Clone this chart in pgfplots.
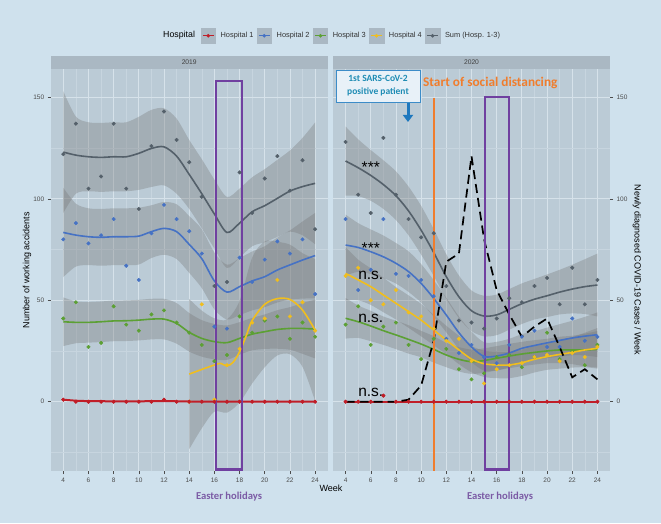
\documentclass[border=0pt]{standalone}
\usepackage{pgfplots}
\pgfplotsset{compat=1.18}
\usepackage{pgfplotstable}
\usepgfplotslibrary{fillbetween}
\usetikzlibrary{arrows.meta}
\usepackage{fontspec}
\setmainfont{Liberation Sans}
\newfontfamily\calib{Carlito}

\definecolor{bgcol}{RGB}{207,225,237}
\definecolor{panelcol}{RGB}{187,203,214}
\definecolor{stripcol}{RGB}{170,184,195}
\definecolor{gridmaj}{RGB}{214,226,234}
\definecolor{gridmin}{RGB}{199,213,223}
\definecolor{hred}{RGB}{192,30,40}
\definecolor{hblue}{RGB}{70,114,196}
\definecolor{hgreen}{RGB}{92,160,52}
\definecolor{hyellow}{RGB}{240,190,30}
\definecolor{hgray}{RGB}{84,96,106}
\definecolor{easter}{RGB}{112,64,160}
\definecolor{eastertext}{RGB}{123,91,165}
\definecolor{socorange}{RGB}{240,125,45}
\definecolor{boxblue}{RGB}{60,140,200}
\definecolor{boxfill}{RGB}{232,241,248}
\definecolor{boxtext}{RGB}{30,140,180}
\definecolor{arrowblue}{RGB}{30,120,190}
\definecolor{tickgray}{RGB}{77,77,77}

% ---------- 2019 data ----------
\pgfplotstableread{
w r b g s
4 1 80 41 122
5 0 88 49 137
6 0 78 27 105
7 0 82 29 111
8 0 90 47 137
9 0 67 38 105
10 0 60 35 95
11 0 83 43 126
12 1 97 45 143
13 0 90 39 129
14 0 84 34 118
15 0 73 28 101
16 0 37 20 57
17 0 36 23 59
18 0 71 42 113
19 0 59 34 93
20 0 70 40 110
21 0 79 42 121
22 0 73 31 104
23 0 80 39 119
24 0 53 32 85
}\ptsA
\pgfplotstableread{
w y
14 0
15 48
16 1
17 18
18 26
19 39
20 41
21 60
22 42
23 49
24 35
}\ptsAy
\pgfplotstableread{
w f
4 1.0
5 0.5
6 0.3
8 0.2
10 0.2
12 0.3
14 0.1
16 0.0
18 0.0
20 0.0
22 0.0
24 0.0
}\redA
\pgfplotstableread{
w f lo hi
4 123 93 153
5 121.5 102.5 140.5
6 120.7 103.7 137.7
7 120.4 103.4 137.4
8 120.7 103.7 137.7
9 120.7 103.7 137.7
10 122.4 104.4 140.4
11 124.8 105.8 143.8
12 125.6 106.6 144.6
13 121 102.5 139.5
14 112 95 129
15 102.5 85.5 119.5
16 92.5 75.5 109.5
17 83.4 65.9 100.9
18 88 71 105
19 93.6 76.6 110.6
20 96.6 78.6 114.6
21 100.2 81.2 119.2
22 103.8 83.8 123.8
23 106 82 130
24 107.6 77.6 137.6
}\sumA
\pgfplotstableread{
w f lo hi
4 83.4 61.4 105.4
5 82.1 66.6 97.6
6 81.3 67.3 95.3
7 81.0 67 95
8 81.3 67.3 95.3
9 81.3 67.3 95.3
10 81.6 67.6 95.6
11 83.8 70.8 96.8
12 85.4 72.4 98.4
13 83.8 70.3 97.3
14 77.5 63.5 91.5
15 70.5 56 85
16 59.5 45.5 73.5
17 54 40.5 67.5
18 56.7 42.7 70.7
19 59.5 45 74
20 61.6 46.6 76.6
21 64.9 48.9 80.9
22 67.4 50.4 84.4
23 69.8 50.8 88.8
24 72 51 93
}\blueA
\pgfplotstableread{
w f lo hi
4 39.4 27.4 51.4
5 39.1 28.8 49.4
6 39.1 29.1 49.1
7 39.4 29.4 49.4
8 39.8 29.8 49.8
9 39.9 29.9 49.9
10 40.2 30.2 50.2
11 40.7 30.7 50.7
12 40.7 30.7 50.7
13 38.6 28.6 48.6
14 34.2 24.7 43.7
15 31.2 22.2 40.2
16 29.6 20.9 38.3
17 29.1 20.6 37.6
18 31.2 23.2 39.2
19 33.3 25.3 41.3
20 34.5 26 43
21 35.6 26.1 45.1
22 36.1 25.6 46.6
23 36.1 23.6 48.6
24 35.8 21.3 50.3
}\greenA
\pgfplotstableread{
w f lo hi
14 13.6 -23.4 50.6
15 15.9 -13.1 44.9
16 18.1 -4.9 41.1
17 17.6 -5.4 40.6
18 24.6 -0.4 49.6
19 40 9 71
20 48 17 79
21 50.8 22.8 78.8
22 50.4 23.4 77.4
23 45.2 17.2 73.2
24 35.3 0.3 70.3
}\yelA
\pgfplotstableread{
w f
14 13.6
15 15.9
16 18.1
16.5 18.9
17 17.6
17.5 19.5
18 24.6
18.5 32
19 40
20 48
21 50.8
22 50.4
23 45.2
24 35.3
}\yelAline

% ---------- 2020 data ----------
\pgfplotstableread{
w r b g y s
4 0 90 38 62 128
5 0 55 47 66 102
6 0 65 28 50 93
7 3 90 37 48 130
8 0 63 39 55 102
9 0 62 28 44 90
10 0 60 21 42 81
11 0 52 31 36 83
12 0 31 26 30 57
13 0 24 16 31 40
14 0 28 11 20 39
15 0 22 14 9 36
16 0 19 22 16 41
17 0 28 23 18 51
18 0 32 17 19 49
19 0 35 22 22 57
20 0 27 34 23 61
21 0 27 21 20 48
22 0 41 25 24 66
23 0 30 18 22 48
24 0 32 28 27 60
}\ptsB
\pgfplotstableread{
w f lo hi
4 118.6 101.6 135.6
5 115.3 101.3 129.3
6 111.5 99 124
7 107 95 119
8 101.5 89.5 113.5
9 94 82 106
10 84.5 72.5 96.5
11 73.5 62 85
12 61.6 50.6 72.6
13 51.7 41.2 62.2
14 44.8 34.8 54.8
15 42.2 32.2 52.2
16 42.8 32.8 52.8
17 45.5 35.5 55.5
18 48.3 38.3 58.3
19 50.5 40.5 60.5
20 52.2 41.7 62.7
21 54 43 65
22 55.5 43.5 67.5
23 56.7 43.2 70.2
24 57.5 42 73
}\sumB
\pgfplotstableread{
w f lo hi
4 77.2 62.2 92.2
5 76 64 88
6 73.9 62.9 84.9
7 71.4 60.9 81.9
8 68.2 58.2 78.2
9 64.1 54.1 74.1
10 58.3 48.8 67.8
11 50.9 41.9 59.9
12 42.7 34.2 51.2
13 34 26 42
14 27 19.5 34.5
15 22.3 15.3 29.3
16 22.5 15.5 29.5
17 24 17 31
18 26.3 19.3 33.3
19 27.7 20.7 34.7
20 29 21.5 36.5
21 30.2 22.2 38.2
22 31.4 22.9 39.9
23 32.3 22.8 41.8
24 33 22 44
}\blueB
\pgfplotstableread{
w f lo hi
4 63.2 50.2 76.2
5 60 50 70
6 56.7 47.7 65.7
7 52.6 44.1 61.1
8 48.5 40.5 56.5
9 44.4 36.4 52.4
10 40.2 32.2 48.2
11 35.3 27.8 42.8
12 30.4 23.4 37.4
13 25.5 18.5 32.5
14 21 14.5 27.5
15 18.7 12.2 25.2
16 18.1 11.6 24.6
17 18.1 11.6 24.6
18 19.2 12.7 25.7
19 20.9 14.4 27.4
20 22.2 15.7 28.7
21 23.3 16.3 30.3
22 24.3 16.8 31.8
23 25.5 17 34
24 26.3 16.3 36.3
}\yelB
\pgfplotstableread{
w f lo hi
4 41.1 31.1 51.1
5 39.4 31.4 47.4
6 37.3 29.8 44.8
7 35 28 42
8 32.9 25.9 39.9
9 30.7 23.7 37.7
10 28.4 21.9 34.9
11 25.8 19.3 32.3
12 23 17 29
13 20.9 14.9 26.9
14 19.7 13.7 25.7
15 20.3 14.3 26.3
16 21.4 15.4 27.4
17 22.5 16.5 28.5
18 23.5 17.5 29.5
19 24.3 18.3 30.3
20 25 19 31
21 25.5 19 32
22 25.5 18.5 32.5
23 25.5 17.5 33.5
24 25.8 16.8 34.8
}\greenB
\pgfplotstableread{
w c
4 0
5 0
6 0
7 0
8 0
9 1
10 8
11 30
12 69
13 73
14 121
15 80
16 55
17 43
18 32
19 37
20 41
21 27
22 12
23 16
24 11
}\covid

\pgfplotsset{
 panel/.style={
  scale only axis, width=277pt, height=402pt, anchor=south west,
  xmin=3, xmax=25, ymin=-34.15, ymax=163.95,
  axis background/.style={fill=panelcol},
  axis line style={draw=none},
  xtick={4,6,...,24}, minor xtick={5,7,...,23},
  ytick={0,50,100,150}, minor ytick={-25,25,75,125},
  grid=both,
  major grid style={draw=gridmaj, line width=0.8pt},
  minor grid style={draw=gridmin, line width=0.4pt},
  tick align=outside, major tick length=3pt, minor tick length=0pt,
  major tick style={draw=tickgray, line width=0.5pt},
  ticklabel style={font=\fontsize{6.5}{7}\selectfont, text=tickgray},
  /pgf/number format/assume math mode=true,
  xtick pos=left,
 },
 pts/.style={only marks, mark=*, mark size=1.8pt, color=#1, forget plot, on layer=pre main},
 fit/.style={#1, line width=1.6pt, smooth, forget plot},
}
\newcommand\band[2]{%
 \addplot[draw=none, smooth, name path=hi#2, forget plot] table[x=w,y=hi]{#1};
 \addplot[draw=none, smooth, name path=lo#2, forget plot] table[x=w,y=lo]{#1};
 \addplot[fill=black!55, fill opacity=0.33, draw=none, forget plot] fill between[of=hi#2 and lo#2];
}
\newcommand\legkey[1]{%
 \fill[stripcol] (0pt,-7.2pt) rectangle (14.4pt,7.2pt);
 \draw[#1, line width=1.4pt] (1.8pt,0pt) -- (12.6pt,0pt);
 \fill[#1] (7.2pt,0pt) circle (1.6pt);}

\begin{document}
\pagecolor{bgcol}%
\begin{tikzpicture}[x=1pt,y=1pt]

% ---------------- 2019 ----------------
\begin{axis}[panel, at={(50.7pt,52pt)}, ytick pos=left]
\addplot[pts=hgray] table[x=w,y=s]{\ptsA};
\addplot[pts=hblue] table[x=w,y=b]{\ptsA};
\addplot[pts=hgreen] table[x=w,y=g]{\ptsA};
\addplot[pts=hyellow] table[x=w,y=y]{\ptsAy};
\addplot[pts=hred] table[x=w,y=r]{\ptsA};
\addplot[fit=hred, line width=2pt] table[x=w,y=f]{\redA};
\addplot[only marks, mark=*, mark size=1.5pt, color=hred, forget plot] table[x=w,y=r]{\ptsA};
\band{\blueA}{ba}
\addplot[fit=hblue] table[x=w,y=f]{\blueA};
\band{\greenA}{ga}
\addplot[fit=hgreen] table[x=w,y=f]{\greenA};
\band{\yelA}{ya}
\addplot[fit=hyellow] table[x=w,y=f]{\yelAline};
\band{\sumA}{sa}
\addplot[fit=hgray] table[x=w,y=f]{\sumA};
\draw[easter, line width=2.2pt] (axis cs:16.1,158.2) rectangle (axis cs:18.2,-33.4);
\end{axis}

% ---------------- 2020 ----------------
\begin{axis}[panel, at={(333pt,52pt)}, ytick pos=right, yticklabel pos=right]
\addplot[pts=hgray] table[x=w,y=s]{\ptsB};
\addplot[pts=hblue] table[x=w,y=b]{\ptsB};
\addplot[pts=hgreen] table[x=w,y=g]{\ptsB};
\addplot[pts=hyellow] table[x=w,y=y]{\ptsB};
\addplot[pts=hred] table[x=w,y=r]{\ptsB};
\addplot[hred, line width=2pt, forget plot] coordinates {(4,0) (24,0)};
\addplot[only marks, mark=*, mark size=1.5pt, color=hred, forget plot] table[x=w,y=r]{\ptsB};
\band{\blueB}{bb}
\addplot[fit=hblue] table[x=w,y=f]{\blueB};
\band{\greenB}{gb}
\addplot[fit=hgreen] table[x=w,y=f]{\greenB};
\band{\yelB}{yb}
\addplot[fit=hyellow] table[x=w,y=f]{\yelB};
\band{\sumB}{sb}
\addplot[fit=hgray] table[x=w,y=f]{\sumB};
\addplot[black, line width=1.7pt, dash pattern=on 9pt off 5pt, forget plot] table[x=w,y=c]{\covid};
\draw[socorange, line width=2.4pt] (axis cs:11,149.5) -- (axis cs:11,-34.15);
\draw[easter, line width=2.2pt] (axis cs:15.05,150) rectangle (axis cs:17,-33.4);
\node[font=\fontsize{15.5}{15}\selectfont] at (axis cs:6,115.5) {***};
\node[font=\fontsize{15.5}{15}\selectfont] at (axis cs:6,75.5) {***};
\node[font=\fontsize{15.5}{15}\selectfont] at (axis cs:6,62) {n.s.};
\node[font=\fontsize{15.5}{15}\selectfont] at (axis cs:6,41) {n.s.};
\node[font=\fontsize{15.5}{15}\selectfont] at (axis cs:6,4.5) {n.s.};
\end{axis}

% ---------------- legend ----------------
\begin{axis}[at={(0pt,0pt)}, anchor=south west, scale only axis, width=1pt, height=1pt,
  hide axis, xmin=0, xmax=1, ymin=0, ymax=1,
  legend columns=5, legend cell align=left,
  legend style={at={(200.7,487.5)}, anchor=west, draw=none, fill=none, inner sep=0pt,
   font=\fontsize{7.4}{8}\selectfont, text=black!80,
   /tikz/every odd column/.append style={column sep=3pt},
   /tikz/every even column/.append style={column sep=1.4pt}}]
\addlegendimage{legend image code/.code={\legkey{hred}}}
\addlegendentry{Hospital 1}
\addlegendimage{legend image code/.code={\legkey{hblue}}}
\addlegendentry{Hospital 2}
\addlegendimage{legend image code/.code={\legkey{hgreen}}}
\addlegendentry{Hospital 3}
\addlegendimage{legend image code/.code={\legkey{hyellow}}}
\addlegendentry{Hospital 4}
\addlegendimage{legend image code/.code={\legkey{hgray}}}
\addlegendentry{Sum (Hosp. 1-3)}
\end{axis}

\node[anchor=west, font=\fontsize{8.8}{9}\selectfont, inner sep=0] at (163,487.5) {Hospital};

% strips
\fill[stripcol] (50.7,454) rectangle (327.7,467);
\fill[stripcol] (333,454) rectangle (610,467);
\node[font=\fontsize{6.7}{7}\selectfont, text=black!75] at (189.2,460.5) {2019};
\node[font=\fontsize{6.7}{7}\selectfont, text=black!75] at (471.5,460.5) {2020};

% axis titles
\node[rotate=90, font=\fontsize{9}{10}\selectfont] at (27,253) {Number of working accidents};
\node[rotate=-90, font=\fontsize{9}{10}\selectfont] at (637,253) {Newly diagnosed COVID-19 Cases / Week};
\node[font=\fontsize{9}{10}\selectfont] at (331,35) {Week};
\node[font=\calib\bfseries\fontsize{10.6}{11}\selectfont, text=eastertext] at (229,26) {Easter holidays};
\node[font=\calib\bfseries\fontsize{10.6}{11}\selectfont, text=eastertext] at (500,26) {Easter holidays};

% annotations
\node[draw=boxblue, fill=boxfill, line width=0.8pt, minimum width=84pt, minimum height=32pt, inner sep=0pt,
  align=center, text=boxtext, font=\calib\bfseries\fontsize{9.5}{13}\selectfont] at (378,437) {1st SARS-CoV-2\\positive patient};
\draw[arrowblue, line width=3pt, -{Triangle[width=10pt,length=7pt]}] (408,420) -- (408,401);
\node[anchor=west, inner sep=0, text=socorange, font=\calib\bfseries\fontsize{13.3}{14}\selectfont] at (423,440) {Start of social distancing};

\pgfresetboundingbox
\useasboundingbox (0,0) rectangle (661,523);
\end{tikzpicture}
\end{document}
